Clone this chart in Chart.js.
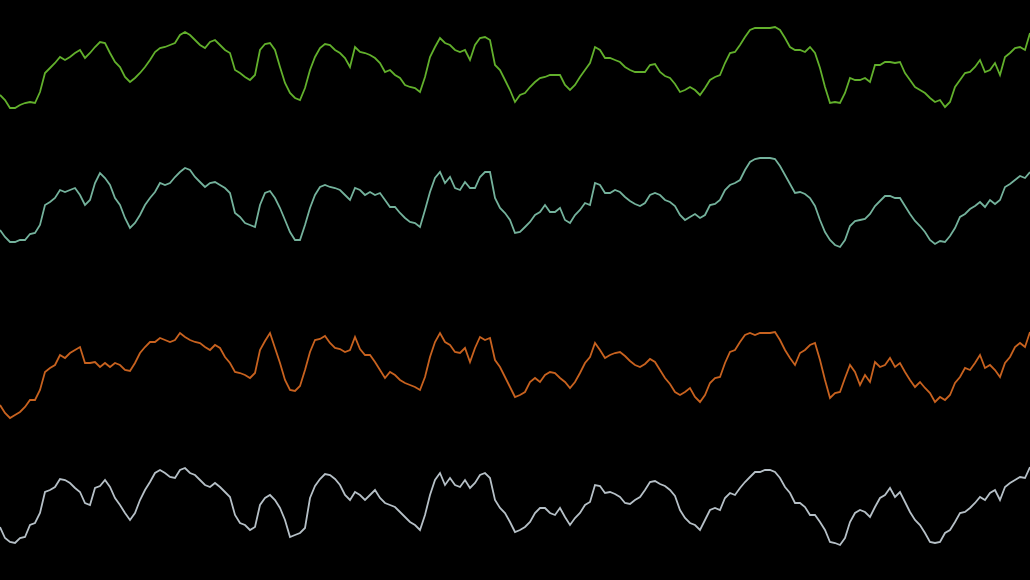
<!DOCTYPE html>
<html>
<head>
<meta charset="utf-8">
<script src="https://cdn.jsdelivr.net/npm/chart.js@4"></script>
<style>
  html, body { margin: 0; padding: 0; background: #000; }
  #wrap { width: 1030px; height: 580px; position: relative; }
</style>
</head>
<body>
<div id="wrap"><canvas id="traces"></canvas></div>
<script>
// vertical position of each trace, read every 5 px across the picture (0 = top)
const green = [
    95,100,108,108,105,103,102,103,92,73,
    68,63,57,60,57,53,50,58,53,47,
    42,43,53,62,67,77,82,78,73,67,
    60,52,48,47,45,43,35,32,35,40,
    45,48,42,40,45,50,53,70,73,77,
    80,75,50,44,43,50,67,83,93,98,
    100,88,70,57,48,44,45,50,53,58,
    67,47,52,53,55,58,63,72,70,75,
    78,85,87,88,92,77,57,47,38,43,
    45,50,52,50,60,45,38,37,40,65,
    70,80,90,102,95,93,87,82,78,77,
    75,75,75,85,90,85,77,70,63,47,
    50,58,58,60,62,67,70,72,72,72,
    65,64,72,76,78,84,92,90,87,90,
    95,88,80,77,75,63,53,52,45,37,
    30,28,28,28,28,27,30,38,47,50,
    50,52,47,53,68,87,103,102,103,93,
    78,80,80,78,82,65,65,62,62,63,
    62,73,80,87,90,93,98,102,100,107,
    102,87,80,73,72,67,60,72,70,63,
    75,57,53,48,47,50,33
];
const teal = [
    230,237,242,242,240,240,234,233,225,205,
    202,198,190,192,190,188,195,205,200,183,
    173,178,185,198,205,218,228,223,215,205,
    198,192,183,185,183,177,172,168,170,177,
    182,187,183,182,185,188,193,213,217,223,
    225,227,205,193,191,198,208,220,232,240,
    240,225,208,195,187,185,187,188,190,195,
    200,188,190,195,192,195,193,200,207,207,
    213,218,222,223,227,210,192,178,172,183,
    177,188,190,182,188,188,177,172,172,198,
    208,213,220,233,232,227,222,215,212,205,
    212,212,208,220,223,215,210,203,205,183,
    185,193,193,190,192,197,201,204,206,203,
    195,193,195,200,202,206,215,220,217,214,
    218,215,205,204,200,190,185,183,180,170,
    162,159,158,158,158,159,166,175,184,193,
    192,194,198,206,220,232,240,245,247,240,
    226,221,220,219,214,206,201,196,196,198,
    198,206,214,221,226,232,240,244,241,242,
    236,228,217,214,209,206,202,207,200,204,
    200,187,184,180,176,178,172
];
const orange = [
    405,413,418,415,412,407,400,400,390,372,
    368,365,355,358,353,350,347,363,363,362,
    367,363,367,363,365,370,371,363,353,347,
    342,342,338,340,342,340,333,337,340,342,
    343,347,350,345,348,357,363,372,373,375,
    378,373,350,341,333,348,363,380,390,391,
    386,370,352,340,339,336,343,348,349,352,
    350,337,349,355,355,362,370,378,372,375,
    380,383,385,387,390,377,357,342,333,342,
    345,352,353,348,362,348,337,340,338,360,
    367,377,387,397,395,392,382,378,382,375,
    372,373,378,382,388,382,373,363,357,343,
    350,358,355,353,352,356,361,365,367,364,
    359,362,370,378,384,392,395,392,388,397,
    402,395,383,378,377,363,352,350,342,335,
    333,335,333,333,333,332,340,350,358,365,
    353,350,345,343,360,380,398,393,392,378,
    365,372,385,375,382,362,367,365,358,367,
    363,372,380,387,382,388,393,402,397,400,
    395,383,377,368,370,363,355,368,365,370,
    377,363,357,347,343,347,332
];
const grey = [
    527,538,542,543,538,537,525,523,513,492,
    490,487,479,480,483,488,492,503,505,488,
    486,480,487,498,505,513,520,513,500,490,
    482,473,470,473,477,478,470,468,473,475,
    480,485,487,483,487,492,497,515,523,525,
    530,527,505,498,495,500,508,520,537,535,
    533,528,498,486,479,474,475,479,485,495,
    500,492,495,500,495,490,498,503,505,507,
    512,517,522,525,530,515,495,480,473,485,
    478,485,487,480,488,483,475,473,478,500,
    508,513,522,532,530,527,522,513,508,508,
    513,515,508,517,525,518,513,505,502,485,
    486,493,492,494,497,503,504,500,497,490,
    482,481,484,486,490,496,510,518,523,525,
    530,520,510,508,510,498,493,495,488,482,
    477,472,472,470,470,472,478,487,493,503,
    503,507,515,515,522,530,542,543,545,538,
    522,513,510,512,517,507,498,495,488,497,
    492,502,512,520,525,533,542,543,542,533,
    530,522,513,512,508,503,497,500,493,490,
    500,487,483,480,477,478,467
];

const labels = green.map((_, i) => i);

const trace = (data, color) => ({
    data,
    borderColor: color,
    backgroundColor: 'transparent',
    borderWidth: 1.8,
    pointRadius: 0,
    tension: 0,
    fill: false,
});

new Chart(document.getElementById('traces').getContext('2d'), {
    type: 'line',
    data: {
        labels,
        datasets: [
            trace(green, '#62b02c'),
            trace(teal, '#74b29c'),
            trace(orange, '#c8621f'),
            trace(grey, '#b6c0c7'),
        ]
    },
    options: {
        responsive: true,
        maintainAspectRatio: false,
        animation: false,
        layout: { padding: 0 },
        plugins: {
            legend: { display: false },
            title: { display: false },
            tooltip: { enabled: false },
        },
        scales: {
            x: { display: false, offset: false, grid: { display: false } },
            y: { display: false, reverse: true, min: 0, max: 580, grid: { display: false } },
        }
    }
});
</script>
</body>
</html>
